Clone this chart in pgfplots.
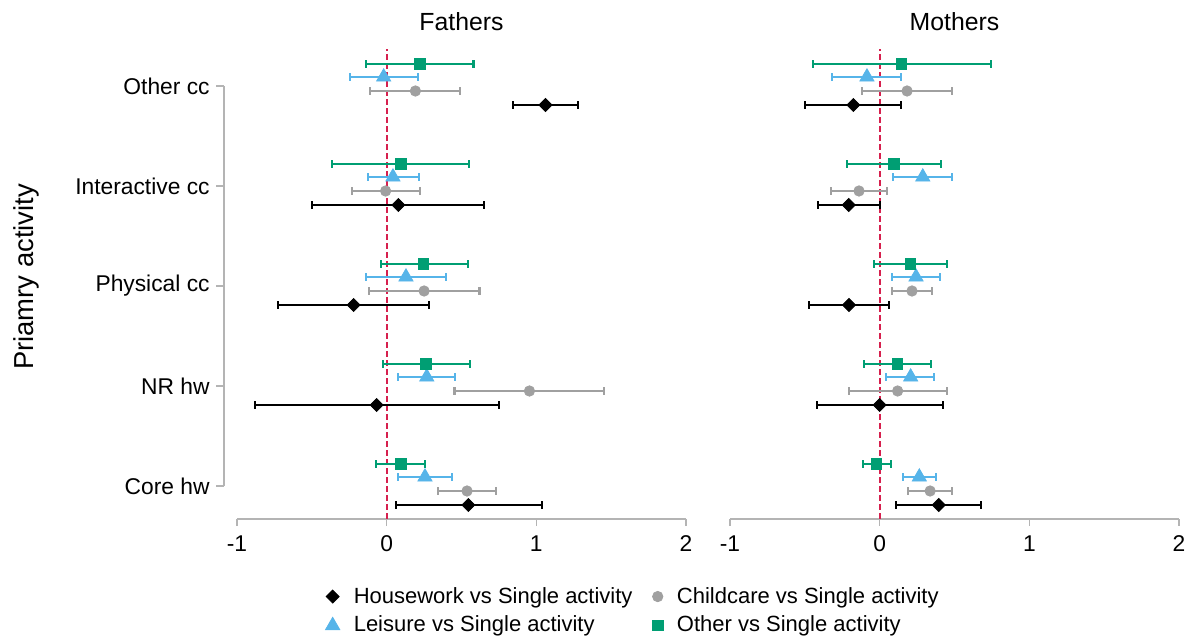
\documentclass[border=0pt]{standalone}
\usepackage{pgfplots}
\pgfplotsset{compat=1.18}
\usepackage{pgfplotstable}
\usepackage{fontspec}
\setmainfont{Liberation Sans}
\definecolor{cgreen}{HTML}{009E73}
\definecolor{cblue}{HTML}{56B4E9}
\definecolor{cgray}{HTML}{A0A0A0}
\definecolor{cred}{HTML}{D6204E}
\definecolor{axgray}{HTML}{B4B4B4}

% c: 1 = Core hw, 2 = NR hw, 3 = Physical cc, 4 = Interactive cc, 5 = Other cc
% h = Housework, k = Childcare, l = Leisure, o = Other ; m = estimate, l/h = CI bounds
\pgfplotstableread{
c hm hl hh km kl kh lm ll lh om ol oh
1 0.546 0.060 1.037 0.537 0.343 0.731 0.256 0.074 0.437 0.094 -0.069 0.259
2 -0.067 -0.881 0.749 0.954 0.453 1.454 0.268 0.076 0.457 0.263 -0.027 0.557
3 -0.221 -0.725 0.283 0.250 -0.120 0.620 0.129 -0.140 0.399 0.247 -0.038 0.542
4 0.078 -0.497 0.653 -0.007 -0.234 0.223 0.042 -0.127 0.216 0.096 -0.368 0.553
5 1.061 0.845 1.280 0.192 -0.109 0.490 -0.020 -0.243 0.207 0.223 -0.138 0.580
}\fathers

\pgfplotstableread{
c hm hl hh km kl kh lm ll lh om ol oh
1 0.395 0.109 0.676 0.337 0.190 0.484 0.265 0.156 0.375 -0.020 -0.114 0.074
2 0.000 -0.419 0.421 0.120 -0.207 0.448 0.207 0.045 0.363 0.118 -0.105 0.343
3 -0.205 -0.475 0.065 0.216 0.082 0.350 0.243 0.082 0.404 0.205 -0.038 0.448
4 -0.207 -0.415 0.000 -0.138 -0.323 0.047 0.288 0.091 0.484 0.094 -0.221 0.412
5 -0.176 -0.499 0.145 0.183 -0.116 0.484 -0.085 -0.317 0.145 0.147 -0.444 0.742
}\mothers

\tikzset{ytk/.style={axgray, line width=0.75pt}}

\pgfplotsset{
  panel/.style={
    scale only axis, width=224.5pt, height=235pt,
    xmin=-1, xmax=2, ymin=0.67, ymax=5.37,
    clip=false,
    axis x line*=bottom,
    x axis line style={axgray, line width=0.75pt, -},
    xtick={-1,0,1,2}, xticklabels={-1,0,1,2},
    xtick style={axgray, line width=0.75pt},
    tick align=outside, major tick length=3.5pt,
    xticklabel style={font=\fontsize{11.4}{13}\selectfont, inner sep=0pt, yshift=-4.5pt},
    title style={font=\fontsize{12.4}{15}\selectfont, at={(0.5,1)}, anchor=center, yshift=7.5pt},
  },
  ebar/.style={only marks, #1,
    error bars/x dir=both, error bars/x explicit,
    error bars/error mark=|,
    error bars/error mark options={line width=1.05pt, mark size=1.8pt, #1},
    error bars/error bar style={line width=1.05pt, #1}},
  hw/.style={ebar=black, mark=square*, mark size=2.3pt, mark options={rotate=45, fill=black, draw=black}},
  ck/.style={ebar=cgray, mark=*, mark size=2.6pt, mark options={fill=cgray, draw=cgray}},
  le/.style={ebar=cblue, mark=triangle*, mark size=4.1pt, mark options={fill=cblue, draw=cblue}},
  ot/.style={ebar=cgreen, mark=square*, mark size=2.6pt, mark options={fill=cgreen, draw=cgreen}},
}

\begin{document}
\begin{tikzpicture}
\path[use as bounding box] (0,0) rectangle (594.5pt,318.5pt);

\begin{axis}[panel, at={(118.5pt,59pt)}, anchor=south west,
  title={Fathers},
  axis y line*=left, y axis line style={draw=none},
  ytick={1,2,3,4,5},
  yticklabels={Core hw,NR hw,Physical cc,Interactive cc,Other cc},
  ytick style={draw=none},
  yticklabel style={font=\fontsize{11.4}{13}\selectfont, anchor=east, inner sep=0pt, xshift=-10pt},
  legend columns=2,
  legend cell align=left,
  legend image code/.code={\draw[#1] plot coordinates {(0pt,0pt)};},
  legend style={draw=none, fill=none, at={(0.183,-0.127)}, anchor=north west,
    font=\fontsize{11}{13}\selectfont, row sep=1pt,
    /tikz/every odd column/.append style={column sep=5pt},
    /tikz/every even column/.append style={column sep=8pt}},
]
\draw[cred, line width=1pt, dash pattern=on 3pt off 1.5pt] (axis cs:0,0.67) -- (axis cs:0,5.37);
\draw[ytk] ([xshift=-6.5pt]axis cs:-1,1) -- ([xshift=-6.5pt]axis cs:-1,5);
\draw[ytk] ([xshift=-6.5pt]axis cs:-1,1) -- ([xshift=-10.5pt]axis cs:-1,1);
\draw[ytk] ([xshift=-6.5pt]axis cs:-1,2) -- ([xshift=-10.5pt]axis cs:-1,2);
\draw[ytk] ([xshift=-6.5pt]axis cs:-1,3) -- ([xshift=-10.5pt]axis cs:-1,3);
\draw[ytk] ([xshift=-6.5pt]axis cs:-1,4) -- ([xshift=-10.5pt]axis cs:-1,4);
\draw[ytk] ([xshift=-6.5pt]axis cs:-1,5) -- ([xshift=-10.5pt]axis cs:-1,5);
\addplot[hw] table[x=hm, y expr=\thisrow{c}-0.19, x error plus expr=\thisrow{hh}-\thisrow{hm}, x error minus expr=\thisrow{hm}-\thisrow{hl}] {\fathers};
\addlegendentry{Housework vs Single activity}
\addplot[ck] table[x=km, y expr=\thisrow{c}-0.05, x error plus expr=\thisrow{kh}-\thisrow{km}, x error minus expr=\thisrow{km}-\thisrow{kl}] {\fathers};
\addlegendentry{Childcare vs Single activity}
\addplot[le] table[x=lm, y expr=\thisrow{c}+0.09, x error plus expr=\thisrow{lh}-\thisrow{lm}, x error minus expr=\thisrow{lm}-\thisrow{ll}] {\fathers};
\addlegendentry{Leisure vs Single activity}
\addplot[ot] table[x=om, y expr=\thisrow{c}+0.22, x error plus expr=\thisrow{oh}-\thisrow{om}, x error minus expr=\thisrow{om}-\thisrow{ol}] {\fathers};
\addlegendentry{Other vs Single activity}
\end{axis}

\begin{axis}[panel, at={(365pt,59pt)}, anchor=south west,
  title={Mothers},
  axis y line=none, ytick=\empty,
]
\draw[cred, line width=1pt, dash pattern=on 3pt off 1.5pt] (axis cs:0,0.67) -- (axis cs:0,5.37);
\addplot[hw] table[x=hm, y expr=\thisrow{c}-0.19, x error plus expr=\thisrow{hh}-\thisrow{hm}, x error minus expr=\thisrow{hm}-\thisrow{hl}] {\mothers};
\addplot[ck] table[x=km, y expr=\thisrow{c}-0.05, x error plus expr=\thisrow{kh}-\thisrow{km}, x error minus expr=\thisrow{km}-\thisrow{kl}] {\mothers};
\addplot[le] table[x=lm, y expr=\thisrow{c}+0.09, x error plus expr=\thisrow{lh}-\thisrow{lm}, x error minus expr=\thisrow{lm}-\thisrow{ll}] {\mothers};
\addplot[ot] table[x=om, y expr=\thisrow{c}+0.22, x error plus expr=\thisrow{oh}-\thisrow{om}, x error minus expr=\thisrow{om}-\thisrow{ol}] {\mothers};
\end{axis}

\node[rotate=90, font=\fontsize{13.7}{16}\selectfont] at (13pt,180pt) {Priamry activity};
\end{tikzpicture}
\end{document}
